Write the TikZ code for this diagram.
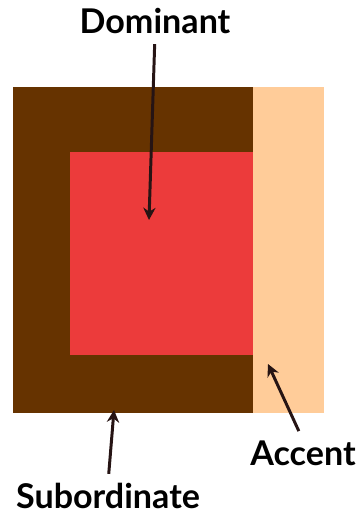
\documentclass[tikz,border=0pt]{standalone}
\usepackage{fontspec}
\setmainfont{Lato}
\usepackage{tikz}
\usetikzlibrary{arrows.meta, positioning}
\definecolor{subbrown}{HTML}{663300}
\definecolor{domred}{HTML}{EC3B3B}
\definecolor{accpeach}{HTML}{FFCC99}
\definecolor{arrowdark}{HTML}{261414}

\begin{document}
\begin{tikzpicture}[x=0.02cm, y=-0.02cm,
			lbl/.style={font=\fontsize{19.4}{22}\selectfont\bfseries, inner sep=0pt},
			ptr/.style={-{Stealth[length=7pt, width=7pt]}, line width=1.7pt, arrowdark}
			]
			\useasboundingbox (0,0) rectangle (362,514);
			% colour blocks
			\fill[subbrown] (13,87) rectangle (253,413);
			\fill[accpeach] (253,87) rectangle (324,413);
			\fill[domred] (70,152) rectangle (253,355);
			% labels
			\node[lbl] (dom) at (155,21) {Dominant};
			\node[lbl] (sub) at (108,496) {Subordinate};
			\node[lbl] (acc) at (303,453) {Accent};
			% arrow targets
			\coordinate (domT) at (149,220);
			\coordinate (subT) at (114,410);
			\coordinate (accT) at (268,364);
			\draw[ptr, shorten <=0.2cm] (dom.south) -- (domT);
			\draw[ptr, shorten <=0.18cm] (sub.north) -- (subT);
			\draw[ptr, shorten <=0.2cm] (acc.north) -- (accT);
	\end{tikzpicture}
\end{document}
